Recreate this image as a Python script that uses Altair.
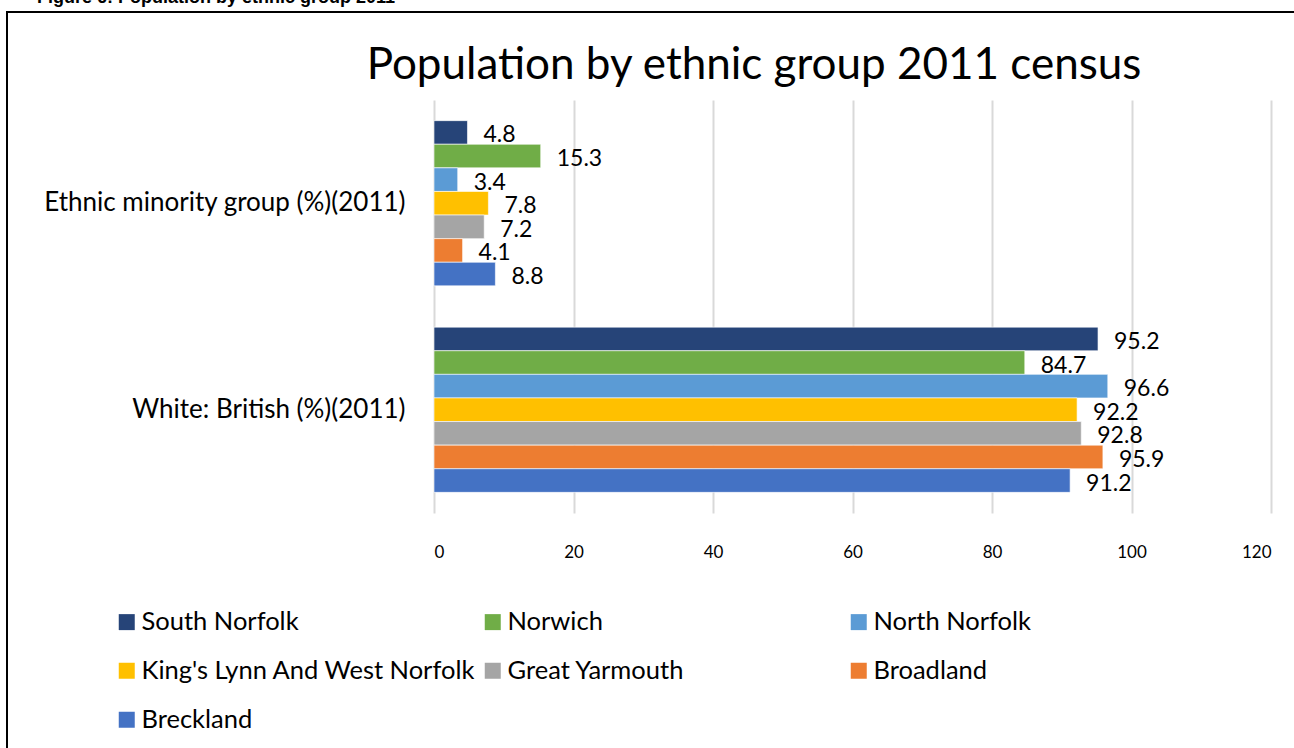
import altair as alt
import pandas as pd

categories = ["Ethnic minority group (%)(2011)", "White: British (%)(2011)"]
districts = ["South Norfolk", "Norwich", "North Norfolk", "King's Lynn And West Norfolk",
             "Great Yarmouth", "Broadland", "Breckland"]
colors = ["#264478", "#70AD47", "#5B9BD5", "#FFC000", "#A5A5A5", "#ED7D31", "#4472C4"]
minority = [4.8, 15.3, 3.4, 7.8, 7.2, 4.1, 8.8]
white_british = [95.2, 84.7, 96.6, 92.2, 92.8, 95.9, 91.2]
x_ticks = [0, 20, 40, 60, 80, 100, 120]
title_text = "Population by ethnic group 2011 census"
caption_text = "Figure 6: Population by ethnic group 2011"

rows = []
for d, v in zip(districts, minority):
    rows.append({"category": categories[0], "district": d, "value": v})
for d, v in zip(districts, white_british):
    rows.append({"category": categories[1], "district": d, "value": v})
df = pd.DataFrame(rows)

FONT = "Lato"

y_enc = alt.Y("category:N", sort=categories, title=None,
              scale=alt.Scale(paddingInner=0.2, paddingOuter=0.1),
              axis=alt.Axis(labelFontSize=26, labelFont=FONT, labelColor="#000000",
                            labelPadding=29, ticks=False, domain=False, labelLimit=500))
x_enc = alt.X("value:Q", title=None,
              scale=alt.Scale(domain=[0, 120], nice=False),
              axis=alt.Axis(values=x_ticks, labelFontSize=17, labelFont=FONT,
                            labelColor="#000000", labelPadding=31, ticks=False, domain=False,
                            grid=True, gridColor="#d9d9d9", gridWidth=2))
yoff = alt.YOffset("district:N", sort=districts, scale=alt.Scale(paddingInner=0, paddingOuter=0))

base = alt.Chart(df)

bars = base.mark_bar(stroke="white", strokeWidth=1, strokeOpacity=0.6).encode(
    y=y_enc, x=x_enc, yOffset=yoff,
    color=alt.Color("district:N", sort=districts,
                    scale=alt.Scale(domain=districts, range=colors),
                    legend=alt.Legend(title=None, orient="none", legendX=-320, legendY=509,
                                      direction="horizontal",
                                      columns=3, gridAlign="all", columnPadding=4,
                                      rowPadding=22, symbolType="square", symbolSize=256,
                                      symbolStrokeWidth=0, symbolOpacity=1,
                                      labelFontSize=25.5, labelFont=FONT, labelColor="#000000",
                                      labelOffset=2, labelLimit=500)),
)

labels = base.mark_text(align="left", baseline="middle", dx=16, dy=3, fontSize=23,
                        font=FONT, color="#000000").encode(
    y=alt.Y("category:N", sort=categories), x="value:Q", yOffset=yoff,
    text=alt.Text("value:Q", format=".1f"),
)

title = alt.Chart(pd.DataFrame({"t": [title_text]})).mark_text(
    align="center", baseline="alphabetic", fontSize=44, font=FONT, color="#000000"
).encode(text="t:N", x=alt.value(320), y=alt.value(-21))

caption = alt.Chart(pd.DataFrame({"t": [caption_text]})).mark_text(
    align="left", baseline="alphabetic", fontSize=18, font="Liberation Sans",
    fontWeight="bold", color="#000000"
).encode(text="t:N", x=alt.value(-397), y=alt.value(-97))

border = alt.Chart(pd.DataFrame({"a": [0]})).mark_rect(
    fill=None, stroke="#000000", strokeWidth=2
).encode(x=alt.value(-427), x2=alt.value(900), y=alt.value(-88), y2=alt.value(700))

chart = alt.layer(border, bars, labels, title, caption).properties(
    width=837, height=413,
    padding={"left": 434, "top": 100, "right": 23, "bottom": 235},
    autosize=alt.AutoSizeParams(type="none"),
    background="white",
).configure_view(stroke=None)

chart.save("out.html", embed_options={"renderer": "svg", "actions": False})
